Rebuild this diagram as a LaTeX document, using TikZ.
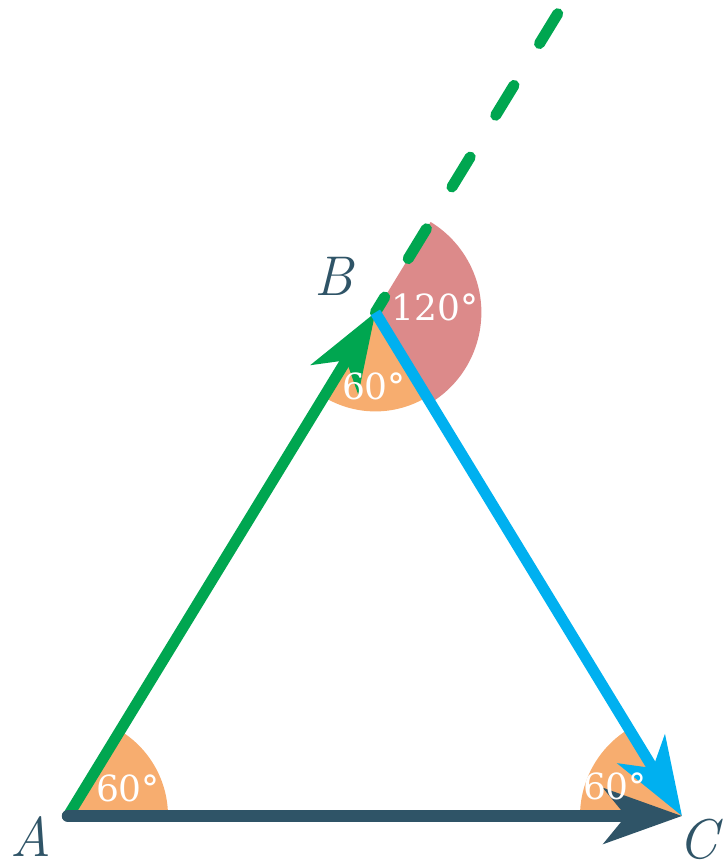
\documentclass[tikz,border=0pt]{standalone}
\usepackage{fontspec}
\usetikzlibrary{arrows.meta}
\newfontfamily\anglefont{DejaVu Serif}
\definecolor{SideAB}{HTML}{00A650}
\definecolor{SideBC}{HTML}{00B0F0}
\definecolor{SideAC}{HTML}{2F5467}
\definecolor{AngIn}{HTML}{F7AD6F}
\definecolor{AngOut}{HTML}{DC8A8A}
\tikzset{
  vlabel/.style={text=SideAC, font=\fontsize{56}{56}\selectfont\itshape, inner sep=0pt},
  alabel/.style={text=white, font=\anglefont\fontsize{36}{36}\selectfont, inner sep=0pt},
  inwedge/.style={fill=AngIn},
  outwedge/.style={fill=AngOut},
  bigtip/.style={-{Stealth[length=78pt, width=55pt, inset=22pt]}},
  vecab/.style={draw=SideAB, line width=11pt, line cap=round, bigtip},
  vecbc/.style={draw=SideBC, line width=11pt, bigtip},
  vecac/.style={draw=SideAC, line width=12.5pt, line cap=round, bigtip},
  extline/.style={draw=SideAB, line width=11pt, line cap=round},
}
\begin{document}
\begin{tikzpicture}[x=1pt, y=1pt]
    \useasboundingbox (0,0) rectangle (725,868);
    \coordinate (A) at (68,52);
    \coordinate (C) at (682,52);
    \path (A) ++(58.6:590) coordinate (B) ++(58.6:18) coordinate (Bx) ++(58.6:332) coordinate (E);
    \fill[inwedge] (A) -- ++(0:100) arc[start angle=0, end angle=58.6, radius=100] -- cycle;
    \fill[inwedge] (C) -- ++(121.3:102) arc[start angle=121.3, end angle=180, radius=102] -- cycle;
    \fill[outwedge] (B) -- ++(301.3:106) arc[start angle=301.3, end angle=418.6, radius=106] -- cycle;
    \fill[inwedge] (B) -- ++(238.6:99) arc[start angle=238.6, end angle=301.3, radius=99] -- cycle;
    \draw[extline] (B) -- (Bx);
    \draw[extline, dash pattern=on 35pt off 49pt, dash phase=39pt] (Bx) -- (E);
    \draw[vecab] (A) -- (B);
    \draw[vecbc] (B) -- (C);
    \draw[vecac] (A) -- (C);
    \node[alabel] (angA) at (128,80) {60°};
    \node[alabel] (angB) at (374,482) {60°};
    \node[alabel] (angC) at (615,82) {60°};
    \node[alabel] (angBx) at (435,561) {120°};
    \node[vlabel] (labA) at (31,31) {A};
    \node[vlabel] (labB) at (334,592) {B};
    \node[vlabel] (labC) at (698,29) {C};
  \end{tikzpicture}
\end{document}
